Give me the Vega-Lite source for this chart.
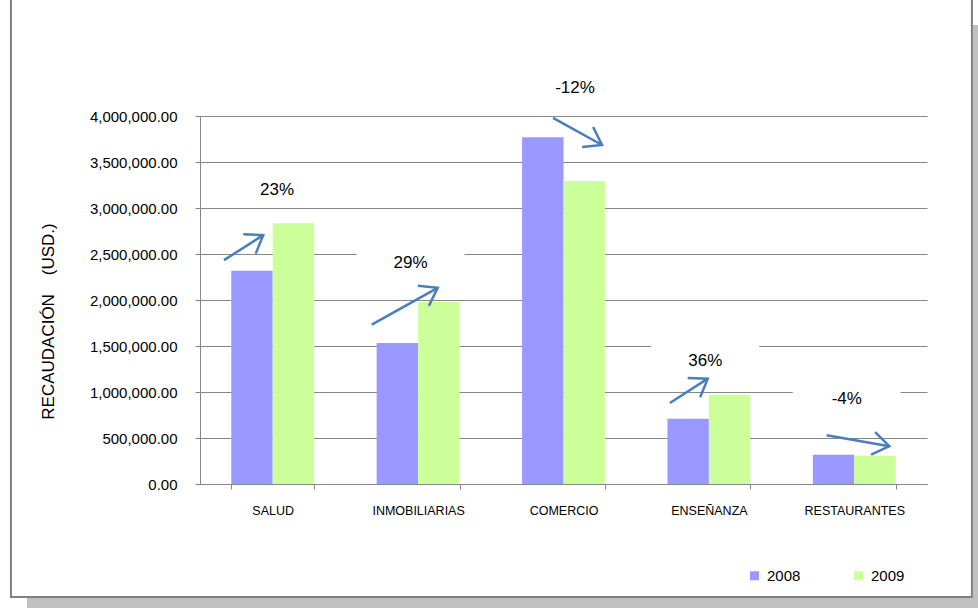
{
  "$schema": "https://vega.github.io/schema/vega-lite/v6.json",
  "width": 727,
  "height": 368,
  "autosize": "none",
  "padding": {"left": 200, "top": 116, "right": 51, "bottom": 124},
  "background": "white",
  "config": {"view": {"stroke": null}, "font": "Liberation Sans"},
  "datasets": {
    "bars": [
      {"cat": "SALUD", "year": "2008", "value": 2317000},
      {"cat": "SALUD", "year": "2009", "value": 2833000},
      {"cat": "INMOBILIARIAS", "year": "2008", "value": 1533000},
      {"cat": "INMOBILIARIAS", "year": "2009", "value": 1979000},
      {"cat": "COMERCIO", "year": "2008", "value": 3769000},
      {"cat": "COMERCIO", "year": "2009", "value": 3293000},
      {"cat": "ENSEÑANZA", "year": "2008", "value": 709000},
      {"cat": "ENSEÑANZA", "year": "2009", "value": 974000},
      {"cat": "RESTAURANTES", "year": "2008", "value": 318000},
      {"cat": "RESTAURANTES", "year": "2009", "value": 307000}
    ],
    "arrows": [
      {"seg": "1s", "o": 1, "ax": 0.165, "ay": 2433000},
      {"seg": "1s", "o": 2, "ax": 0.435, "ay": 2705000},
      {"seg": "1h", "o": 1, "ax": 0.298, "ay": 2715000},
      {"seg": "1h", "o": 2, "ax": 0.435, "ay": 2705000},
      {"seg": "1h", "o": 3, "ax": 0.383, "ay": 2504000},
      {"seg": "2s", "o": 1, "ax": 1.181, "ay": 1733000},
      {"seg": "2s", "o": 2, "ax": 1.635, "ay": 2132000},
      {"seg": "2h", "o": 1, "ax": 1.498, "ay": 2154000},
      {"seg": "2h", "o": 2, "ax": 1.635, "ay": 2132000},
      {"seg": "2h", "o": 3, "ax": 1.574, "ay": 1936000},
      {"seg": "3s", "o": 1, "ax": 2.428, "ay": 3979000},
      {"seg": "3s", "o": 2, "ax": 2.765, "ay": 3685000},
      {"seg": "3h", "o": 1, "ax": 2.704, "ay": 3880000},
      {"seg": "3h", "o": 2, "ax": 2.765, "ay": 3685000},
      {"seg": "3h", "o": 3, "ax": 2.628, "ay": 3662000},
      {"seg": "4s", "o": 1, "ax": 3.232, "ay": 880000},
      {"seg": "4s", "o": 2, "ax": 3.492, "ay": 1145000},
      {"seg": "4h", "o": 1, "ax": 3.354, "ay": 1153000},
      {"seg": "4h", "o": 2, "ax": 3.492, "ay": 1145000},
      {"seg": "4h", "o": 3, "ax": 3.440, "ay": 944000},
      {"seg": "5s", "o": 1, "ax": 4.310, "ay": 531000},
      {"seg": "5s", "o": 2, "ax": 4.741, "ay": 411000},
      {"seg": "5h", "o": 1, "ax": 4.643, "ay": 565000},
      {"seg": "5h", "o": 2, "ax": 4.741, "ay": 411000},
      {"seg": "5h", "o": 3, "ax": 4.616, "ay": 319000}
    ],
    "labels": [
      {"label": "23%", "tx": 0.530, "ty": 3195000, "box": false},
      {"label": "29%", "tx": 1.448, "ty": 2397000, "box": true},
      {"label": "-12%", "tx": 2.579, "ty": 4305000, "box": false},
      {"label": "36%", "tx": 3.475, "ty": 1334000, "box": true},
      {"label": "-4%", "tx": 4.448, "ty": 928000, "box": true}
    ]
  },
  "resolve": {"scale": {"x": "independent"}, "axis": {"x": "independent", "y": "independent"}},
  "layer": [
    {
      "data": {"name": "bars"},
      "mark": {"type": "bar"},
      "encoding": {
        "x": {
          "field": "cat", "type": "nominal", "sort": null,
          "scale": {"paddingInner": 0.43, "paddingOuter": 0.215},
          "axis": {
            "title": null, "labelAngle": 0, "labelFontSize": 12.5, "labelColor": "#000000",
            "labelPadding": 15, "domainColor": "#868686", "tickColor": "#868686",
            "tickSize": 5, "tickBand": "extent", "grid": false
          }
        },
        "xOffset": {"field": "year", "type": "nominal", "scale": {"paddingInner": 0, "paddingOuter": 0}},
        "y": {
          "field": "value", "type": "quantitative",
          "scale": {"domain": [0, 4000000], "nice": false},
          "axis": {
            "orient": "left",
            "title": "RECAUDACIÓN\u00a0\u00a0\u00a0\u00a0(USD.)", "titleFontSize": 17, "titleFontWeight": "normal",
            "titleColor": "#000000", "titleX": -152, "titleY": 205, "titleBaseline": "middle",
            "values": [0, 500000, 1000000, 1500000, 2000000, 2500000, 3000000, 3500000, 4000000],
            "format": ",.2f", "labelFontSize": 15, "labelColor": "#000000", "labelPadding": 18,
            "domainColor": "#868686", "tickColor": "#868686", "tickSize": 5,
            "gridColor": "#868686", "gridWidth": 1
          }
        },
        "color": {
          "field": "year", "type": "nominal",
          "scale": {"domain": ["2008", "2009"], "range": ["#9999ff", "#ccff99"]},
          "legend": {
            "title": null, "orient": "none", "legendX": 547, "legendY": 452,
            "direction": "horizontal", "symbolType": "square", "symbolSize": 81,
            "symbolStrokeWidth": 0, "labelFontSize": 15, "labelColor": "#000000",
            "columnPadding": 50, "labelOffset": 5
          }
        }
      }
    },
    {
      "resolve": {"scale": {"x": "shared"}},
      "layer": [
        {
          "data": {"values": [{}]},
          "mark": {"type": "rect", "fill": "#c0c0c0", "clip": false},
          "encoding": {
            "x": {"datum": 5.316, "type": "quantitative", "scale": {"domain": [0, 5], "nice": false, "zero": false}, "axis": null},
            "x2": {"datum": 5.45},
            "y": {"datum": 4989000, "type": "quantitative", "scale": {"domain": [0, 4000000], "nice": false}, "axis": null},
            "y2": {"datum": -1450000}
          }
        },
        {
          "data": {"values": [{}]},
          "mark": {"type": "rect", "fill": "#c0c0c0", "clip": false},
          "encoding": {
            "x": {"datum": -1.19, "type": "quantitative", "scale": {"domain": [0, 5], "nice": false, "zero": false}, "axis": null},
            "x2": {"datum": 5.45},
            "y": {"datum": -1239000, "type": "quantitative", "scale": {"domain": [0, 4000000], "nice": false}, "axis": null},
            "y2": {"datum": -1450000}
          }
        },
        {
          "data": {"values": [{}]},
          "mark": {"type": "rect", "filled": false, "stroke": "#808080", "strokeWidth": 2, "clip": false},
          "encoding": {
            "x": {"datum": -1.30, "type": "quantitative", "scale": {"domain": [0, 5], "nice": false, "zero": false}, "axis": null},
            "x2": {"datum": 5.309},
            "y": {"datum": 5370000, "type": "quantitative", "scale": {"domain": [0, 4000000], "nice": false}, "axis": null},
            "y2": {"datum": -1228000}
          }
        },
        {
          "data": {"name": "labels"},
          "transform": [{"filter": "datum.box"}],
          "mark": {"type": "point", "shape": "M-1,-0.333H1V0.333H-1Z", "filled": true, "fill": "white", "opacity": 1, "size": 11664, "strokeWidth": 0},
          "encoding": {
            "x": {"field": "tx", "type": "quantitative", "scale": {"domain": [0, 5], "nice": false, "zero": false}, "axis": null},
            "y": {"field": "ty", "type": "quantitative", "scale": {"domain": [0, 4000000], "nice": false}, "axis": null}
          }
        },
        {
          "data": {"name": "arrows"},
          "mark": {"type": "line", "color": "#4a7ebb", "strokeWidth": 2.5, "clip": false},
          "encoding": {
            "x": {"field": "ax", "type": "quantitative", "scale": {"domain": [0, 5], "nice": false, "zero": false}, "axis": null},
            "y": {"field": "ay", "type": "quantitative", "scale": {"domain": [0, 4000000], "nice": false}, "axis": null},
            "detail": {"field": "seg"},
            "order": {"field": "o"}
          }
        },
        {
          "data": {"name": "labels"},
          "mark": {"type": "text", "fontSize": 17, "color": "#000000", "align": "center", "baseline": "middle", "clip": false},
          "encoding": {
            "x": {"field": "tx", "type": "quantitative", "scale": {"domain": [0, 5], "nice": false, "zero": false}, "axis": null},
            "y": {"field": "ty", "type": "quantitative", "scale": {"domain": [0, 4000000], "nice": false}, "axis": null},
            "text": {"field": "label"}
          }
        }
      ]
    }
  ]
}
